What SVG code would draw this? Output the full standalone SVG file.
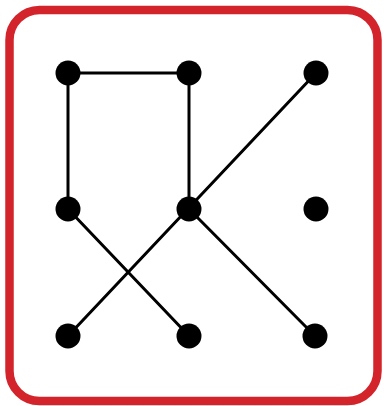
<svg xmlns="http://www.w3.org/2000/svg" width="386" height="406" viewBox="0 0 386 406">
<style>
.frame{fill:#ffffff;stroke:#d3242c;stroke-width:8.5}
.edge{stroke:#000;stroke-width:3;fill:none;stroke-linecap:round}
.dot{fill:#000}
</style>
<rect class="frame" x="9.5" y="10" width="368" height="391" rx="30" ry="30"/>
<g id="connectors">
<line class="edge" x1="68" y1="73" x2="189" y2="73"/>
<line class="edge" x1="68" y1="73" x2="68" y2="209"/>
<line class="edge" x1="189" y1="73" x2="189" y2="209"/>
<line class="edge" x1="316" y1="73" x2="68" y2="336"/>
<line class="edge" x1="68" y1="209" x2="189" y2="336"/>
<line class="edge" x1="189" y1="209" x2="315" y2="336"/>
</g>
<g id="n1"><circle class="dot" cx="68" cy="73" r="12.5"/></g>
<g id="n2"><circle class="dot" cx="189" cy="73" r="12.5"/></g>
<g id="n3"><circle class="dot" cx="316" cy="73" r="12.5"/></g>
<g id="n4"><circle class="dot" cx="68" cy="209" r="12.5"/></g>
<g id="n5"><circle class="dot" cx="189" cy="209" r="12.5"/></g>
<g id="n6"><circle class="dot" cx="316" cy="209" r="12.5"/></g>
<g id="n7"><circle class="dot" cx="68" cy="336" r="12.5"/></g>
<g id="n8"><circle class="dot" cx="189" cy="336" r="12.5"/></g>
<g id="n9"><circle class="dot" cx="315" cy="336" r="12.5"/></g>
</svg>
